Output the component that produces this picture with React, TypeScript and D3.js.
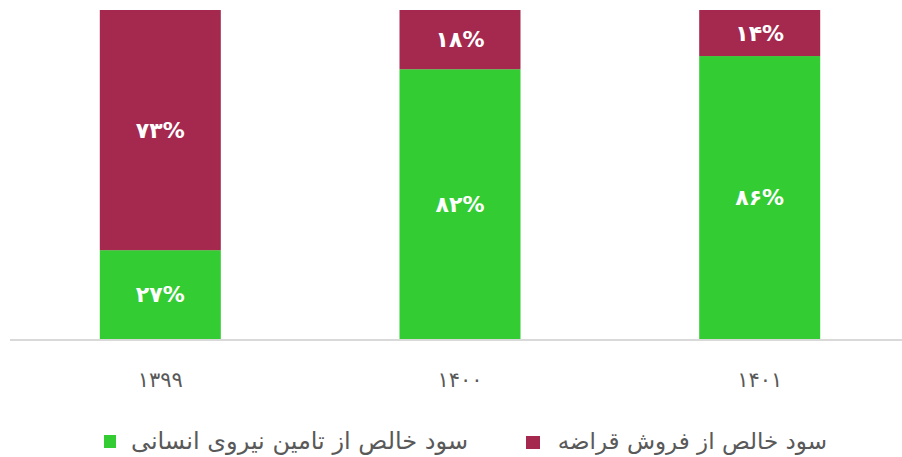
import React from "react";
import * as d3 from "d3";

const categories = ["۱۳۹۹", "۱۴۰۰", "۱۴۰۱"];
const greenValues = [27, 82, 86];
const crimsonValues = [73, 18, 14];
const greenLabels = ["۲۷%", "۸۲%", "۸۶%"];
const crimsonLabels = ["۷۳%", "۱۸%", "۱۴%"];
const seriesNames = ["سود خالص از تامین نیروی انسانی", "سود خالص از فروش قراضه"];
const colors = ["#33CC33", "#A5284F"];

const W = 902;
const H = 457;
const FONT = "'DejaVu Sans', sans-serif";

export default function App() {
  const x = d3.scaleBand<string>().domain(categories).range([10, 910]).paddingInner(0.597).paddingOuter(0.3);
  const y = d3.scaleLinear().domain([0, 100]).range([339, 10]);
  const bw = 121;
  const cx = (c: string) => (x(c) as number) + x.bandwidth() / 2;

  return (
    <svg width={W} height={H} style={{ position: "absolute", left: 0, top: 0 }}>
      <rect width={W} height={H} fill="#fff" />
      {categories.map((c, i) => {
        const g = greenValues[i];
        const r = crimsonValues[i];
        return (
          <g key={c}>
            <rect x={cx(c) - bw / 2} y={y(g)} width={bw} height={y(0) - y(g)} fill={colors[0]} />
            <rect x={cx(c) - bw / 2} y={y(g + r)} width={bw} height={y(g) - y(g + r)} fill={colors[1]} />
            <text x={cx(c)} y={(y(0) + y(g)) / 2} textAnchor="middle" dominantBaseline="central"
              fill="#fff" fontWeight="bold" fontSize={22} fontFamily={FONT} direction="ltr">{greenLabels[i]}</text>
            <text x={cx(c)} y={(y(g) + y(g + r)) / 2} textAnchor="middle" dominantBaseline="central"
              fill="#fff" fontWeight="bold" fontSize={22} fontFamily={FONT} direction="ltr">{crimsonLabels[i]}</text>
            <text x={cx(c)} y={380} textAnchor="middle" dominantBaseline="central"
              fill="#595959" fontSize={21} fontFamily={FONT}>{c}</text>
          </g>
        );
      })}
      <line x1={10} x2={902} y1={340} y2={340} stroke="#d9d9d9" strokeWidth={2} />
      <rect x={104} y={435} width={12} height={13} fill={colors[0]} />
      <text x={468} y={441} textAnchor="end" dominantBaseline="central" fill="#595959" fontSize={24} fontFamily={FONT}>{seriesNames[0]}</text>
      <rect x={526} y={436} width={14} height={13} fill={colors[1]} />
      <text x={827} y={441} textAnchor="end" dominantBaseline="central" fill="#595959" fontSize={23} fontFamily={FONT}>{seriesNames[1]}</text>
    </svg>
  );
}
